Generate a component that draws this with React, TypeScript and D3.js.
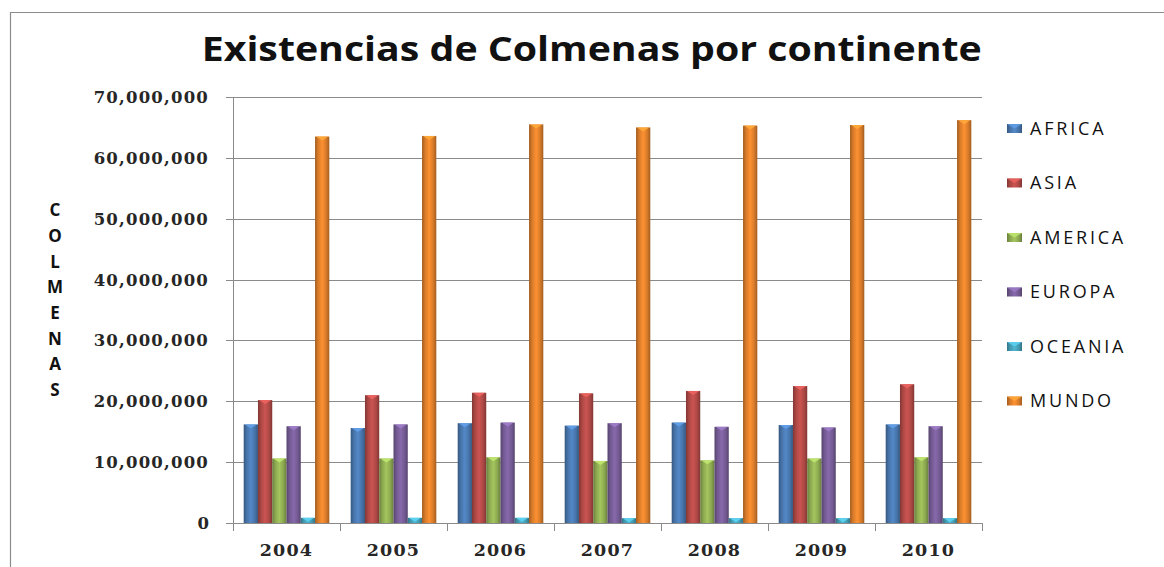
import React from "react";
import * as d3 from "d3";

const years = ["2004", "2005", "2006", "2007", "2008", "2009", "2010"];
const seriesNames = ["AFRICA", "ASIA", "AMERICA", "EUROPA", "OCEANIA", "MUNDO"];
const africa = [16.2e6, 15.6e6, 16.4e6, 16.0e6, 16.5e6, 16.1e6, 16.2e6];
const asia = [20.2e6, 21.0e6, 21.4e6, 21.3e6, 21.7e6, 22.5e6, 22.8e6];
const america = [10.6e6, 10.6e6, 10.8e6, 10.2e6, 10.3e6, 10.6e6, 10.8e6];
const europa = [15.9e6, 16.2e6, 16.5e6, 16.4e6, 15.8e6, 15.7e6, 15.9e6];
const oceania = [0.85e6, 0.85e6, 0.85e6, 0.8e6, 0.8e6, 0.8e6, 0.8e6];
const mundo = [63.5e6, 63.6e6, 65.5e6, 65.0e6, 65.3e6, 65.4e6, 66.2e6];
const yTicks = [0, 10e6, 20e6, 30e6, 40e6, 50e6, 60e6, 70e6];
const axisTitle = "COLMENAS";
const title = "Existencias de Colmenas por continente";

const seriesValues = [africa, asia, america, europa, oceania, mundo];
const colors = ["#4F81BD", "#C0504D", "#9BBB59", "#8064A2", "#4BACC6", "#F0892F"];

const W = 1164;
const H = 567;
const plot = { left: 233, right: 982, top: 97, bottom: 523 };

export default function App() {
  const x = d3.scaleBand().domain(years).range([plot.left, plot.right]).paddingInner(0).paddingOuter(0);
  const inner = d3
    .scaleBand()
    .domain(seriesNames)
    .range([0, x.bandwidth()])
    .paddingInner(0)
    .paddingOuter(0.75);
  const y = d3.scaleLinear().domain([0, 70e6]).range([plot.bottom, plot.top]);
  const fmt = d3.format(",");

  const grads = colors.map((c, i) => {
    const dark = d3.color(c)!.darker(1.1).formatHex();
    const mid = d3.color(c)!.darker(0.3).formatHex();
    const light = d3.color(c)!.brighter(0.15).formatHex();
    const cap = d3.color(c)!.brighter(0.6).formatHex();
    return { id: `g${i}`, dark, mid, light, cap };
  });

  return (
    <svg
      width={W}
      height={H}
      style={{ position: "absolute", left: 0, top: 0, display: "block", background: "#fff" }}
    >
      <defs>
        {grads.map((g) => (
          <linearGradient key={g.id} id={g.id} x1="0" x2="1" y1="0" y2="0">
            <stop offset="0%" stopColor={g.dark} />
            <stop offset="22%" stopColor={g.mid} />
            <stop offset="50%" stopColor={g.light} />
            <stop offset="78%" stopColor={g.mid} />
            <stop offset="100%" stopColor={g.dark} />
          </linearGradient>
        ))}
      </defs>
      <rect x={0} y={0} width={W} height={H} fill="#fff" />
      {/* chart frame */}
      <line x1={10.5} x2={10.5} y1={12} y2={H} stroke="#8c8c8c" strokeWidth={1.2} />
      <line x1={10} x2={W} y1={12.5} y2={12.5} stroke="#8c8c8c" strokeWidth={1.2} />

      {/* title */}
      <text
        x={591.7}
        y={61}
        textAnchor="middle"
        fontFamily="'Open Sans', sans-serif"
        fontWeight="bold"
        fontSize={34}
        fill="#111"
        textLength={780}
        lengthAdjust="spacingAndGlyphs"
      >
        {title}
      </text>

      {/* gridlines */}
      {yTicks.slice(1).map((t) => (
        <line
          key={t}
          x1={plot.left}
          x2={plot.right}
          y1={Math.round(y(t)) + 0.5}
          y2={Math.round(y(t)) + 0.5}
          stroke="#8a8a8a"
          strokeWidth={1}
        />
      ))}

      {/* bars */}
      {years.map((yr, i) => (
        <g key={yr} transform={`translate(${x(yr)},0)`}>
          {seriesNames.map((s, j) => {
            const v = seriesValues[j][i];
            const bx = inner(s)!;
            const bw = inner.bandwidth();
            const top = y(v);
            const h = plot.bottom - top;
            return (
              <g key={s}>
                <rect x={bx} y={top} width={bw} height={h} fill={`url(#g${j})`} />
                <polygon
                  points={`${bx + 1},${top} ${bx + bw - 1},${top} ${bx + bw / 2},${top + Math.min(4, h)}`}
                  fill={grads[j].cap}
                  opacity={0.9}
                />
              </g>
            );
          })}
        </g>
      ))}

      {/* y axis */}
      <line x1={plot.left + 0.5} x2={plot.left + 0.5} y1={plot.top} y2={plot.bottom} stroke="#8a8a8a" />
      {yTicks.map((t) => (
        <g key={t}>
          <line
            x1={plot.left - 7}
            x2={plot.left}
            y1={Math.round(y(t)) + 0.5}
            y2={Math.round(y(t)) + 0.5}
            stroke="#8a8a8a"
          />
          <text
            x={209}
            y={y(t)}
            dy="0.36em"
            textAnchor="end"
            fontFamily="'DejaVu Serif', serif"
            fontWeight="bold"
            fontSize={16.5}
            fill="#262626"
            letterSpacing={t === 0 ? 0 : 1.2}
          >
            {fmt(t)}
          </text>
        </g>
      ))}

      {/* x axis */}
      <line x1={plot.left} x2={plot.right} y1={plot.bottom + 0.5} y2={plot.bottom + 0.5} stroke="#8a8a8a" />
      {[...years.map((yr) => x(yr)!), plot.right].map((p, k) => (
        <line key={k} x1={p + 0.5} x2={p + 0.5} y1={plot.bottom} y2={plot.bottom + 8} stroke="#8a8a8a" />
      ))}
      {years.map((yr) => (
        <text
          key={yr}
          x={x(yr)! + x.bandwidth() / 2}
          y={556}
          textAnchor="middle"
          fontFamily="'DejaVu Serif', serif"
          fontWeight="bold"
          fontSize={17.5}
          fill="#262626"
          letterSpacing={1.2}
        >
          {yr}
        </text>
      ))}

      {/* y axis title, stacked letters */}
      {axisTitle.split("").map((ch, k) => (
        <text
          key={k}
          x={55}
          y={210 + k * 25.7}
          dy="0.36em"
          textAnchor="middle"
          fontFamily="'Open Sans', sans-serif"
          fontWeight="bold"
          fontSize={17}
          fill="#111"
        >
          {ch}
        </text>
      ))}

      {/* legend */}
      {seriesNames.map((s, j) => {
        const cy = 128.5 + j * 54.5;
        return (
          <g key={s}>
            <rect x={1007} y={cy - 4.5} width={15} height={9} fill={`url(#g${j})`} />
            <polygon
              points={`${1007},${cy - 4.5} ${1022},${cy - 4.5} ${1014.5},${cy}`}
              fill={grads[j].cap}
              opacity={0.8}
            />
            <text
              x={1030}
              y={cy}
              dy="0.36em"
              fontFamily="'Open Sans', sans-serif"
              fontSize={18}
              fill="#111"
              letterSpacing={2.8}
            >
              {s}
            </text>
          </g>
        );
      })}
    </svg>
  );
}
